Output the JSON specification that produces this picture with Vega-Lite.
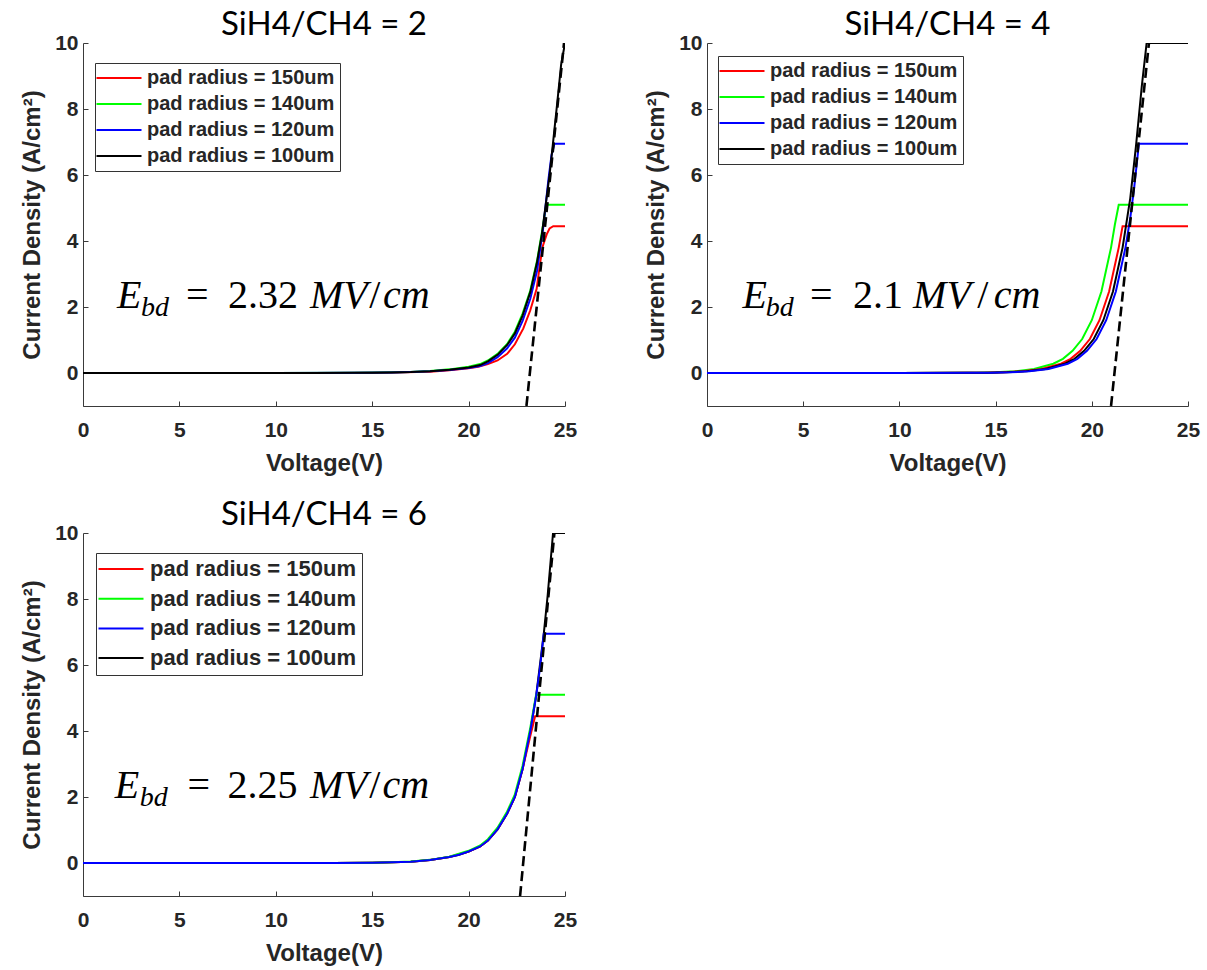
{
  "$schema": "https://vega.github.io/schema/vega-lite/v6.json",
  "background": "white",
  "padding": {"left": 20, "top": 9, "right": 4, "bottom": 2},
  "config": {
    "view": {"stroke": null},
    "axis": {
      "grid": false,
      "domainColor": "#3a3a3a",
      "domainWidth": 1,
      "tickColor": "#3a3a3a",
      "tickSize": -5,
      "labelFont": "Liberation Sans",
      "labelFontWeight": "bold",
      "labelFontSize": 21,
      "labelColor": "#262626",
      "labelFlush": false,
      "labelOverlap": false,
      "titleFont": "Liberation Sans",
      "titleFontWeight": "bold",
      "titleFontSize": 24,
      "titleColor": "#262626"
    },
    "title": {"font": "Lato", "fontSize": 33, "fontWeight": "normal", "color": "black", "frame": "group", "anchor": "middle", "offset": -10}
  },
  "datasets": {
    "curves": [
      {"ratio": 2, "radius": "pad radius = 150um", "V": 0, "J": 0},
      {"ratio": 2, "radius": "pad radius = 150um", "V": 10, "J": 0},
      {"ratio": 2, "radius": "pad radius = 150um", "V": 14, "J": 0.003},
      {"ratio": 2, "radius": "pad radius = 150um", "V": 16, "J": 0.012},
      {"ratio": 2, "radius": "pad radius = 150um", "V": 18, "J": 0.04},
      {"ratio": 2, "radius": "pad radius = 150um", "V": 19, "J": 0.08},
      {"ratio": 2, "radius": "pad radius = 150um", "V": 20, "J": 0.14},
      {"ratio": 2, "radius": "pad radius = 150um", "V": 20.5, "J": 0.19},
      {"ratio": 2, "radius": "pad radius = 150um", "V": 21, "J": 0.27},
      {"ratio": 2, "radius": "pad radius = 150um", "V": 21.5, "J": 0.38},
      {"ratio": 2, "radius": "pad radius = 150um", "V": 22, "J": 0.58},
      {"ratio": 2, "radius": "pad radius = 150um", "V": 22.4, "J": 0.87},
      {"ratio": 2, "radius": "pad radius = 150um", "V": 22.84, "J": 1.35},
      {"ratio": 2, "radius": "pad radius = 150um", "V": 23.2, "J": 1.9},
      {"ratio": 2, "radius": "pad radius = 150um", "V": 23.53, "J": 2.55},
      {"ratio": 2, "radius": "pad radius = 150um", "V": 23.7, "J": 3.3},
      {"ratio": 2, "radius": "pad radius = 150um", "V": 23.85, "J": 3.85},
      {"ratio": 2, "radius": "pad radius = 150um", "V": 24.05, "J": 4.2},
      {"ratio": 2, "radius": "pad radius = 150um", "V": 24.2, "J": 4.38},
      {"ratio": 2, "radius": "pad radius = 150um", "V": 24.39, "J": 4.45},
      {"ratio": 2, "radius": "pad radius = 150um", "V": 25, "J": 4.45},

      {"ratio": 2, "radius": "pad radius = 140um", "V": 0, "J": 0},
      {"ratio": 2, "radius": "pad radius = 140um", "V": 10, "J": 0},
      {"ratio": 2, "radius": "pad radius = 140um", "V": 14, "J": 0.007},
      {"ratio": 2, "radius": "pad radius = 140um", "V": 16, "J": 0.02},
      {"ratio": 2, "radius": "pad radius = 140um", "V": 17, "J": 0.033},
      {"ratio": 2, "radius": "pad radius = 140um", "V": 18, "J": 0.06},
      {"ratio": 2, "radius": "pad radius = 140um", "V": 19, "J": 0.11},
      {"ratio": 2, "radius": "pad radius = 140um", "V": 20, "J": 0.19},
      {"ratio": 2, "radius": "pad radius = 140um", "V": 20.6, "J": 0.27},
      {"ratio": 2, "radius": "pad radius = 140um", "V": 21, "J": 0.38},
      {"ratio": 2, "radius": "pad radius = 140um", "V": 21.5, "J": 0.58},
      {"ratio": 2, "radius": "pad radius = 140um", "V": 22, "J": 0.88},
      {"ratio": 2, "radius": "pad radius = 140um", "V": 22.4, "J": 1.25},
      {"ratio": 2, "radius": "pad radius = 140um", "V": 22.8, "J": 1.8},
      {"ratio": 2, "radius": "pad radius = 140um", "V": 23.2, "J": 2.5},
      {"ratio": 2, "radius": "pad radius = 140um", "V": 23.55, "J": 3.4},
      {"ratio": 2, "radius": "pad radius = 140um", "V": 23.8, "J": 4.25},
      {"ratio": 2, "radius": "pad radius = 140um", "V": 24.0, "J": 5.0},
      {"ratio": 2, "radius": "pad radius = 140um", "V": 24.05, "J": 5.1},
      {"ratio": 2, "radius": "pad radius = 140um", "V": 25, "J": 5.1},

      {"ratio": 2, "radius": "pad radius = 120um", "V": 0, "J": 0},
      {"ratio": 2, "radius": "pad radius = 120um", "V": 10, "J": 0},
      {"ratio": 2, "radius": "pad radius = 120um", "V": 14, "J": 0.005},
      {"ratio": 2, "radius": "pad radius = 120um", "V": 16, "J": 0.015},
      {"ratio": 2, "radius": "pad radius = 120um", "V": 17, "J": 0.027},
      {"ratio": 2, "radius": "pad radius = 120um", "V": 18, "J": 0.05},
      {"ratio": 2, "radius": "pad radius = 120um", "V": 19, "J": 0.09},
      {"ratio": 2, "radius": "pad radius = 120um", "V": 20, "J": 0.15},
      {"ratio": 2, "radius": "pad radius = 120um", "V": 20.6, "J": 0.21},
      {"ratio": 2, "radius": "pad radius = 120um", "V": 21, "J": 0.3},
      {"ratio": 2, "radius": "pad radius = 120um", "V": 21.5, "J": 0.48},
      {"ratio": 2, "radius": "pad radius = 120um", "V": 22, "J": 0.75},
      {"ratio": 2, "radius": "pad radius = 120um", "V": 22.4, "J": 1.07},
      {"ratio": 2, "radius": "pad radius = 120um", "V": 22.8, "J": 1.58},
      {"ratio": 2, "radius": "pad radius = 120um", "V": 23.2, "J": 2.25},
      {"ratio": 2, "radius": "pad radius = 120um", "V": 23.55, "J": 3.1},
      {"ratio": 2, "radius": "pad radius = 120um", "V": 23.86, "J": 4.35},
      {"ratio": 2, "radius": "pad radius = 120um", "V": 24.14, "J": 5.86},
      {"ratio": 2, "radius": "pad radius = 120um", "V": 24.3, "J": 6.6},
      {"ratio": 2, "radius": "pad radius = 120um", "V": 24.45, "J": 6.95},
      {"ratio": 2, "radius": "pad radius = 120um", "V": 25, "J": 6.95},

      {"ratio": 2, "radius": "pad radius = 100um", "V": 0, "J": 0},
      {"ratio": 2, "radius": "pad radius = 100um", "V": 10, "J": 0},
      {"ratio": 2, "radius": "pad radius = 100um", "V": 12, "J": 0.002},
      {"ratio": 2, "radius": "pad radius = 100um", "V": 14, "J": 0.006},
      {"ratio": 2, "radius": "pad radius = 100um", "V": 15, "J": 0.01},
      {"ratio": 2, "radius": "pad radius = 100um", "V": 16, "J": 0.018},
      {"ratio": 2, "radius": "pad radius = 100um", "V": 17, "J": 0.03},
      {"ratio": 2, "radius": "pad radius = 100um", "V": 18, "J": 0.055},
      {"ratio": 2, "radius": "pad radius = 100um", "V": 19, "J": 0.1},
      {"ratio": 2, "radius": "pad radius = 100um", "V": 20, "J": 0.17},
      {"ratio": 2, "radius": "pad radius = 100um", "V": 20.6, "J": 0.24},
      {"ratio": 2, "radius": "pad radius = 100um", "V": 21, "J": 0.35},
      {"ratio": 2, "radius": "pad radius = 100um", "V": 21.5, "J": 0.55},
      {"ratio": 2, "radius": "pad radius = 100um", "V": 22, "J": 0.85},
      {"ratio": 2, "radius": "pad radius = 100um", "V": 22.4, "J": 1.2},
      {"ratio": 2, "radius": "pad radius = 100um", "V": 22.8, "J": 1.74},
      {"ratio": 2, "radius": "pad radius = 100um", "V": 23.2, "J": 2.45},
      {"ratio": 2, "radius": "pad radius = 100um", "V": 23.55, "J": 3.36},
      {"ratio": 2, "radius": "pad radius = 100um", "V": 23.8, "J": 4.2},
      {"ratio": 2, "radius": "pad radius = 100um", "V": 24.0, "J": 5.1},
      {"ratio": 2, "radius": "pad radius = 100um", "V": 24.2, "J": 6.0},
      {"ratio": 2, "radius": "pad radius = 100um", "V": 24.38, "J": 6.98},
      {"ratio": 2, "radius": "pad radius = 100um", "V": 24.6, "J": 8.2},
      {"ratio": 2, "radius": "pad radius = 100um", "V": 24.8, "J": 9.35},
      {"ratio": 2, "radius": "pad radius = 100um", "V": 25, "J": 10},

      {"ratio": 4, "radius": "pad radius = 140um", "V": 0, "J": 0},
      {"ratio": 4, "radius": "pad radius = 140um", "V": 10, "J": 0},
      {"ratio": 4, "radius": "pad radius = 140um", "V": 13, "J": 0.004},
      {"ratio": 4, "radius": "pad radius = 140um", "V": 14, "J": 0.009},
      {"ratio": 4, "radius": "pad radius = 140um", "V": 15, "J": 0.021},
      {"ratio": 4, "radius": "pad radius = 140um", "V": 16, "J": 0.05},
      {"ratio": 4, "radius": "pad radius = 140um", "V": 17, "J": 0.12},
      {"ratio": 4, "radius": "pad radius = 140um", "V": 18, "J": 0.28},
      {"ratio": 4, "radius": "pad radius = 140um", "V": 18.5, "J": 0.43},
      {"ratio": 4, "radius": "pad radius = 140um", "V": 19, "J": 0.67},
      {"ratio": 4, "radius": "pad radius = 140um", "V": 19.5, "J": 1.03},
      {"ratio": 4, "radius": "pad radius = 140um", "V": 20, "J": 1.6},
      {"ratio": 4, "radius": "pad radius = 140um", "V": 20.5, "J": 2.47},
      {"ratio": 4, "radius": "pad radius = 140um", "V": 21, "J": 3.8},
      {"ratio": 4, "radius": "pad radius = 140um", "V": 21.2, "J": 4.5},
      {"ratio": 4, "radius": "pad radius = 140um", "V": 21.4, "J": 5.1},
      {"ratio": 4, "radius": "pad radius = 140um", "V": 25, "J": 5.1},

      {"ratio": 4, "radius": "pad radius = 150um", "V": 0, "J": 0},
      {"ratio": 4, "radius": "pad radius = 150um", "V": 10, "J": 0},
      {"ratio": 4, "radius": "pad radius = 150um", "V": 13.4, "J": 0.004},
      {"ratio": 4, "radius": "pad radius = 150um", "V": 14.4, "J": 0.009},
      {"ratio": 4, "radius": "pad radius = 150um", "V": 15.4, "J": 0.021},
      {"ratio": 4, "radius": "pad radius = 150um", "V": 16.4, "J": 0.05},
      {"ratio": 4, "radius": "pad radius = 150um", "V": 17.4, "J": 0.12},
      {"ratio": 4, "radius": "pad radius = 150um", "V": 18.4, "J": 0.28},
      {"ratio": 4, "radius": "pad radius = 150um", "V": 18.9, "J": 0.43},
      {"ratio": 4, "radius": "pad radius = 150um", "V": 19.4, "J": 0.67},
      {"ratio": 4, "radius": "pad radius = 150um", "V": 19.9, "J": 1.03},
      {"ratio": 4, "radius": "pad radius = 150um", "V": 20.4, "J": 1.6},
      {"ratio": 4, "radius": "pad radius = 150um", "V": 20.9, "J": 2.47},
      {"ratio": 4, "radius": "pad radius = 150um", "V": 21.4, "J": 3.8},
      {"ratio": 4, "radius": "pad radius = 150um", "V": 21.6, "J": 4.45},
      {"ratio": 4, "radius": "pad radius = 150um", "V": 25, "J": 4.45},

      {"ratio": 4, "radius": "pad radius = 100um", "V": 0, "J": 0},
      {"ratio": 4, "radius": "pad radius = 100um", "V": 10, "J": 0},
      {"ratio": 4, "radius": "pad radius = 100um", "V": 13.6, "J": 0.004},
      {"ratio": 4, "radius": "pad radius = 100um", "V": 14.6, "J": 0.009},
      {"ratio": 4, "radius": "pad radius = 100um", "V": 15.6, "J": 0.021},
      {"ratio": 4, "radius": "pad radius = 100um", "V": 16.6, "J": 0.05},
      {"ratio": 4, "radius": "pad radius = 100um", "V": 17.6, "J": 0.12},
      {"ratio": 4, "radius": "pad radius = 100um", "V": 18.6, "J": 0.28},
      {"ratio": 4, "radius": "pad radius = 100um", "V": 19.1, "J": 0.43},
      {"ratio": 4, "radius": "pad radius = 100um", "V": 19.6, "J": 0.67},
      {"ratio": 4, "radius": "pad radius = 100um", "V": 20.1, "J": 1.03},
      {"ratio": 4, "radius": "pad radius = 100um", "V": 20.6, "J": 1.6},
      {"ratio": 4, "radius": "pad radius = 100um", "V": 21.1, "J": 2.47},
      {"ratio": 4, "radius": "pad radius = 100um", "V": 21.6, "J": 3.8},
      {"ratio": 4, "radius": "pad radius = 100um", "V": 22.0, "J": 5.3},
      {"ratio": 4, "radius": "pad radius = 100um", "V": 22.3, "J": 6.9},
      {"ratio": 4, "radius": "pad radius = 100um", "V": 22.6, "J": 8.7},
      {"ratio": 4, "radius": "pad radius = 100um", "V": 22.85, "J": 10},
      {"ratio": 4, "radius": "pad radius = 100um", "V": 25, "J": 10},

      {"ratio": 4, "radius": "pad radius = 120um", "V": 0, "J": 0},
      {"ratio": 4, "radius": "pad radius = 120um", "V": 10, "J": 0},
      {"ratio": 4, "radius": "pad radius = 120um", "V": 13.75, "J": 0.004},
      {"ratio": 4, "radius": "pad radius = 120um", "V": 14.75, "J": 0.009},
      {"ratio": 4, "radius": "pad radius = 120um", "V": 15.75, "J": 0.021},
      {"ratio": 4, "radius": "pad radius = 120um", "V": 16.75, "J": 0.05},
      {"ratio": 4, "radius": "pad radius = 120um", "V": 17.75, "J": 0.12},
      {"ratio": 4, "radius": "pad radius = 120um", "V": 18.75, "J": 0.28},
      {"ratio": 4, "radius": "pad radius = 120um", "V": 19.25, "J": 0.43},
      {"ratio": 4, "radius": "pad radius = 120um", "V": 19.75, "J": 0.67},
      {"ratio": 4, "radius": "pad radius = 120um", "V": 20.25, "J": 1.03},
      {"ratio": 4, "radius": "pad radius = 120um", "V": 20.75, "J": 1.6},
      {"ratio": 4, "radius": "pad radius = 120um", "V": 21.25, "J": 2.47},
      {"ratio": 4, "radius": "pad radius = 120um", "V": 21.75, "J": 3.8},
      {"ratio": 4, "radius": "pad radius = 120um", "V": 22.0, "J": 4.7},
      {"ratio": 4, "radius": "pad radius = 120um", "V": 22.2, "J": 5.6},
      {"ratio": 4, "radius": "pad radius = 120um", "V": 22.45, "J": 6.95},
      {"ratio": 4, "radius": "pad radius = 120um", "V": 25, "J": 6.95},

      {"ratio": 6, "radius": "pad radius = 100um", "V": 0, "J": 0},
      {"ratio": 6, "radius": "pad radius = 100um", "V": 10, "J": 0},
      {"ratio": 6, "radius": "pad radius = 100um", "V": 13, "J": 0.003},
      {"ratio": 6, "radius": "pad radius = 100um", "V": 15, "J": 0.01},
      {"ratio": 6, "radius": "pad radius = 100um", "V": 16, "J": 0.02},
      {"ratio": 6, "radius": "pad radius = 100um", "V": 17, "J": 0.04},
      {"ratio": 6, "radius": "pad radius = 100um", "V": 18, "J": 0.09},
      {"ratio": 6, "radius": "pad radius = 100um", "V": 19, "J": 0.18},
      {"ratio": 6, "radius": "pad radius = 100um", "V": 19.5, "J": 0.25},
      {"ratio": 6, "radius": "pad radius = 100um", "V": 20, "J": 0.35},
      {"ratio": 6, "radius": "pad radius = 100um", "V": 20.6, "J": 0.5},
      {"ratio": 6, "radius": "pad radius = 100um", "V": 21, "J": 0.68},
      {"ratio": 6, "radius": "pad radius = 100um", "V": 21.5, "J": 1.02},
      {"ratio": 6, "radius": "pad radius = 100um", "V": 22, "J": 1.5},
      {"ratio": 6, "radius": "pad radius = 100um", "V": 22.4, "J": 2.0},
      {"ratio": 6, "radius": "pad radius = 100um", "V": 22.8, "J": 2.85},
      {"ratio": 6, "radius": "pad radius = 100um", "V": 23.2, "J": 4.0},
      {"ratio": 6, "radius": "pad radius = 100um", "V": 23.5, "J": 5.05},
      {"ratio": 6, "radius": "pad radius = 100um", "V": 23.9, "J": 6.95},
      {"ratio": 6, "radius": "pad radius = 100um", "V": 24.1, "J": 8.1},
      {"ratio": 6, "radius": "pad radius = 100um", "V": 24.38, "J": 10},
      {"ratio": 6, "radius": "pad radius = 100um", "V": 25, "J": 10},

      {"ratio": 6, "radius": "pad radius = 150um", "V": 0, "J": 0},
      {"ratio": 6, "radius": "pad radius = 150um", "V": 10, "J": 0},
      {"ratio": 6, "radius": "pad radius = 150um", "V": 13, "J": 0.003},
      {"ratio": 6, "radius": "pad radius = 150um", "V": 15, "J": 0.01},
      {"ratio": 6, "radius": "pad radius = 150um", "V": 16, "J": 0.02},
      {"ratio": 6, "radius": "pad radius = 150um", "V": 17, "J": 0.04},
      {"ratio": 6, "radius": "pad radius = 150um", "V": 18, "J": 0.09},
      {"ratio": 6, "radius": "pad radius = 150um", "V": 19, "J": 0.18},
      {"ratio": 6, "radius": "pad radius = 150um", "V": 20, "J": 0.35},
      {"ratio": 6, "radius": "pad radius = 150um", "V": 20.6, "J": 0.5},
      {"ratio": 6, "radius": "pad radius = 150um", "V": 21, "J": 0.68},
      {"ratio": 6, "radius": "pad radius = 150um", "V": 21.5, "J": 1.02},
      {"ratio": 6, "radius": "pad radius = 150um", "V": 22, "J": 1.5},
      {"ratio": 6, "radius": "pad radius = 150um", "V": 22.4, "J": 2.0},
      {"ratio": 6, "radius": "pad radius = 150um", "V": 22.8, "J": 2.85},
      {"ratio": 6, "radius": "pad radius = 150um", "V": 23.2, "J": 3.85},
      {"ratio": 6, "radius": "pad radius = 150um", "V": 23.45, "J": 4.45},
      {"ratio": 6, "radius": "pad radius = 150um", "V": 25, "J": 4.45},

      {"ratio": 6, "radius": "pad radius = 140um", "V": 0, "J": 0},
      {"ratio": 6, "radius": "pad radius = 140um", "V": 10, "J": 0},
      {"ratio": 6, "radius": "pad radius = 140um", "V": 13, "J": 0.003},
      {"ratio": 6, "radius": "pad radius = 140um", "V": 15, "J": 0.011},
      {"ratio": 6, "radius": "pad radius = 140um", "V": 16, "J": 0.022},
      {"ratio": 6, "radius": "pad radius = 140um", "V": 17, "J": 0.045},
      {"ratio": 6, "radius": "pad radius = 140um", "V": 18, "J": 0.095},
      {"ratio": 6, "radius": "pad radius = 140um", "V": 19, "J": 0.19},
      {"ratio": 6, "radius": "pad radius = 140um", "V": 20, "J": 0.37},
      {"ratio": 6, "radius": "pad radius = 140um", "V": 20.6, "J": 0.53},
      {"ratio": 6, "radius": "pad radius = 140um", "V": 21, "J": 0.72},
      {"ratio": 6, "radius": "pad radius = 140um", "V": 21.5, "J": 1.07},
      {"ratio": 6, "radius": "pad radius = 140um", "V": 22, "J": 1.56},
      {"ratio": 6, "radius": "pad radius = 140um", "V": 22.4, "J": 2.08},
      {"ratio": 6, "radius": "pad radius = 140um", "V": 22.8, "J": 2.95},
      {"ratio": 6, "radius": "pad radius = 140um", "V": 23.2, "J": 4.1},
      {"ratio": 6, "radius": "pad radius = 140um", "V": 23.5, "J": 5.1},
      {"ratio": 6, "radius": "pad radius = 140um", "V": 25, "J": 5.1},

      {"ratio": 6, "radius": "pad radius = 120um", "V": 0, "J": 0},
      {"ratio": 6, "radius": "pad radius = 120um", "V": 10, "J": 0},
      {"ratio": 6, "radius": "pad radius = 120um", "V": 13, "J": 0.003},
      {"ratio": 6, "radius": "pad radius = 120um", "V": 15, "J": 0.01},
      {"ratio": 6, "radius": "pad radius = 120um", "V": 16, "J": 0.02},
      {"ratio": 6, "radius": "pad radius = 120um", "V": 17, "J": 0.04},
      {"ratio": 6, "radius": "pad radius = 120um", "V": 18, "J": 0.09},
      {"ratio": 6, "radius": "pad radius = 120um", "V": 19, "J": 0.18},
      {"ratio": 6, "radius": "pad radius = 120um", "V": 19.5, "J": 0.25},
      {"ratio": 6, "radius": "pad radius = 120um", "V": 20, "J": 0.35},
      {"ratio": 6, "radius": "pad radius = 120um", "V": 20.6, "J": 0.5},
      {"ratio": 6, "radius": "pad radius = 120um", "V": 21, "J": 0.68},
      {"ratio": 6, "radius": "pad radius = 120um", "V": 21.5, "J": 1.02},
      {"ratio": 6, "radius": "pad radius = 120um", "V": 22, "J": 1.5},
      {"ratio": 6, "radius": "pad radius = 120um", "V": 22.4, "J": 2.0},
      {"ratio": 6, "radius": "pad radius = 120um", "V": 22.8, "J": 2.85},
      {"ratio": 6, "radius": "pad radius = 120um", "V": 23.2, "J": 4.0},
      {"ratio": 6, "radius": "pad radius = 120um", "V": 23.5, "J": 5.05},
      {"ratio": 6, "radius": "pad radius = 120um", "V": 23.7, "J": 5.9},
      {"ratio": 6, "radius": "pad radius = 120um", "V": 23.9, "J": 6.95},
      {"ratio": 6, "radius": "pad radius = 120um", "V": 25, "J": 6.95}
    ],
    "fits": [
      {"ratio": 2, "V": 23.0, "J": -1},
      {"ratio": 2, "V": 24.95, "J": 10},
      {"ratio": 4, "V": 21.0, "J": -1},
      {"ratio": 4, "V": 22.97, "J": 10},
      {"ratio": 6, "V": 22.67, "J": -1},
      {"ratio": 6, "V": 24.45, "J": 10}
    ],
    "notes": [
      {"ratio": 2, "role": "symbol", "text": "E", "V": 1.76, "J": 1.97},
      {"ratio": 2, "role": "subscript", "text": "bd", "V": 3.01, "J": 1.97},
      {"ratio": 2, "role": "operator", "text": "=", "V": 5.34, "J": 1.97},
      {"ratio": 2, "role": "value", "text": "2.32", "V": 7.52, "J": 1.97},
      {"ratio": 2, "role": "unit", "text": "MV", "V": 11.77, "J": 1.97},
      {"ratio": 2, "role": "slash", "text": "/", "V": 14.85, "J": 1.97},
      {"ratio": 2, "role": "unit", "text": "cm", "V": 15.56, "J": 1.97},
      {"ratio": 4, "role": "symbol", "text": "E", "V": 1.85, "J": 1.97},
      {"ratio": 4, "role": "subscript", "text": "bd", "V": 3.06, "J": 1.97},
      {"ratio": 4, "role": "operator", "text": "=", "V": 5.35, "J": 1.97},
      {"ratio": 4, "role": "value", "text": "2.1", "V": 7.59, "J": 1.97},
      {"ratio": 4, "role": "unit", "text": "MV", "V": 10.71, "J": 1.97},
      {"ratio": 4, "role": "slash", "text": "/", "V": 14.05, "J": 1.97},
      {"ratio": 4, "role": "unit", "text": "cm", "V": 14.9, "J": 1.97},
      {"ratio": 6, "role": "symbol", "text": "E", "V": 1.65, "J": 1.97},
      {"ratio": 6, "role": "subscript", "text": "bd", "V": 2.94, "J": 1.97},
      {"ratio": 6, "role": "operator", "text": "=", "V": 5.42, "J": 1.97},
      {"ratio": 6, "role": "value", "text": "2.25", "V": 7.5, "J": 1.97},
      {"ratio": 6, "role": "unit", "text": "MV", "V": 11.77, "J": 1.97},
      {"ratio": 6, "role": "slash", "text": "/", "V": 14.85, "J": 1.97},
      {"ratio": 6, "role": "unit", "text": "cm", "V": 15.54, "J": 1.97}
    ]
  },
  "columns": 2,
  "spacing": {"row": 24, "column": 67},
  "resolve": {
    "scale": {"color": "independent", "x": "independent", "y": "independent"},
    "legend": {"color": "independent"}
  },
  "concat": [
    {
      "width": 482,
      "height": 363,
      "title": {"text": "SiH4/CH4 = 2"},
      "encoding": {
        "x": {"field": "V", "type": "quantitative", "scale": {"domain": [0, 25], "nice": false, "zero": false},
              "axis": {"title": "Voltage(V)", "values": [0, 5, 10, 15, 20, 25], "labelPadding": 18, "titlePadding": 11}},
        "y": {"field": "J", "type": "quantitative", "scale": {"domain": [-1, 10], "nice": false, "zero": false},
              "axis": {"title": "Current Density (A/cm²)", "values": [0, 2, 4, 6, 8, 10], "labelPadding": 10, "titlePadding": 10}}
      },
      "layer": [
        {
          "data": {"name": "curves"},
          "transform": [{"filter": "datum.ratio == 2 && datum.radius != 'pad radius = 100um'"}],
          "mark": {"type": "line", "strokeWidth": 2, "clip": true},
          "encoding": {
            "color": {"field": "radius", "type": "nominal",
              "scale": {"domain": ["pad radius = 150um", "pad radius = 140um", "pad radius = 120um", "pad radius = 100um"], "range": ["#ff0000", "#00ff00", "#0000ff", "#000000"]},
              "legend": {"title": null, "orient": "none", "legendX": 12, "legendY": 20, "symbolType": "M-3,0H3", "symbolSize": 225, "symbolStrokeWidth": 2, "symbolOffset": 9, "labelOffset": 18, "labelFont": "Liberation Sans", "labelFontWeight": "bold", "labelFontSize": 20, "labelColor": "#262626", "labelLimit": 400, "rowPadding": 6, "padding": 5, "strokeColor": "#333333", "fillColor": "white"}}
          }
        },
        {
          "data": {"name": "curves"},
          "transform": [{"filter": "datum.ratio == 2 && datum.radius == 'pad radius = 100um'"}],
          "mark": {"type": "line", "strokeWidth": 2, "clip": true},
          "encoding": {
            "color": {"field": "radius", "type": "nominal",
              "scale": {"domain": ["pad radius = 150um", "pad radius = 140um", "pad radius = 120um", "pad radius = 100um"], "range": ["#ff0000", "#00ff00", "#0000ff", "#000000"]},
              "legend": {"title": null, "orient": "none", "legendX": 12, "legendY": 20, "symbolType": "M-3,0H3", "symbolSize": 225, "symbolStrokeWidth": 2, "symbolOffset": 9, "labelOffset": 18, "labelFont": "Liberation Sans", "labelFontWeight": "bold", "labelFontSize": 20, "labelColor": "#262626", "labelLimit": 400, "rowPadding": 6, "padding": 5, "strokeColor": "#333333", "fillColor": "white"}}
          }
        },
        {
          "data": {"name": "fits"},
          "transform": [{"filter": "datum.ratio == 2"}],
          "mark": {"type": "line", "color": "black", "strokeWidth": 2.6, "strokeDash": [10, 5], "clip": true}
        },
        {
          "data": {"name": "notes"},
          "transform": [{"filter": "datum.ratio == 2 && (datum.role == 'symbol' || datum.role == 'unit')"}],
          "mark": {"type": "text", "align": "left", "baseline": "alphabetic", "font": "Liberation Serif", "fontStyle": "italic", "fontSize": 40, "color": "black"},
          "encoding": {"text": {"field": "text"}}
        },
        {
          "data": {"name": "notes"},
          "transform": [{"filter": "datum.ratio == 2 && datum.role == 'subscript'"}],
          "mark": {"type": "text", "align": "left", "baseline": "alphabetic", "font": "Liberation Serif", "fontStyle": "italic", "fontSize": 28, "dy": 8, "color": "black"},
          "encoding": {"text": {"field": "text"}}
        },
        {
          "data": {"name": "notes"},
          "transform": [{"filter": "datum.ratio == 2 && (datum.role == 'operator' || datum.role == 'value' || datum.role == 'slash')"}],
          "mark": {"type": "text", "align": "left", "baseline": "alphabetic", "font": "Liberation Serif", "fontSize": 40, "color": "black"},
          "encoding": {"text": {"field": "text"}}
        }
      ]
    },
    {
      "width": 481,
      "height": 363,
      "title": {"text": "SiH4/CH4 = 4"},
      "encoding": {
        "x": {"field": "V", "type": "quantitative", "scale": {"domain": [0, 25], "nice": false, "zero": false},
              "axis": {"title": "Voltage(V)", "values": [0, 5, 10, 15, 20, 25], "labelPadding": 18, "titlePadding": 11}},
        "y": {"field": "J", "type": "quantitative", "scale": {"domain": [-1, 10], "nice": false, "zero": false},
              "axis": {"title": "Current Density (A/cm²)", "values": [0, 2, 4, 6, 8, 10], "labelPadding": 10, "titlePadding": 10}}
      },
      "layer": [
        {
          "data": {"name": "curves"},
          "transform": [{"filter": "datum.ratio == 4 && datum.radius != 'pad radius = 120um'"}],
          "mark": {"type": "line", "strokeWidth": 2, "clip": true},
          "encoding": {
            "color": {"field": "radius", "type": "nominal",
              "scale": {"domain": ["pad radius = 150um", "pad radius = 140um", "pad radius = 120um", "pad radius = 100um"], "range": ["#ff0000", "#00ff00", "#0000ff", "#000000"]},
              "legend": {"title": null, "orient": "none", "legendX": 11, "legendY": 13, "symbolType": "M-3,0H3", "symbolSize": 225, "symbolStrokeWidth": 2, "symbolOffset": 9, "labelOffset": 18, "labelFont": "Liberation Sans", "labelFontWeight": "bold", "labelFontSize": 20, "labelColor": "#262626", "labelLimit": 400, "rowPadding": 6, "padding": 5, "strokeColor": "#333333", "fillColor": "white"}}
          }
        },
        {
          "data": {"name": "curves"},
          "transform": [{"filter": "datum.ratio == 4 && datum.radius == 'pad radius = 120um'"}],
          "mark": {"type": "line", "strokeWidth": 2, "clip": true},
          "encoding": {
            "color": {"field": "radius", "type": "nominal",
              "scale": {"domain": ["pad radius = 150um", "pad radius = 140um", "pad radius = 120um", "pad radius = 100um"], "range": ["#ff0000", "#00ff00", "#0000ff", "#000000"]},
              "legend": {"title": null, "orient": "none", "legendX": 11, "legendY": 13, "symbolType": "M-3,0H3", "symbolSize": 225, "symbolStrokeWidth": 2, "symbolOffset": 9, "labelOffset": 18, "labelFont": "Liberation Sans", "labelFontWeight": "bold", "labelFontSize": 20, "labelColor": "#262626", "labelLimit": 400, "rowPadding": 6, "padding": 5, "strokeColor": "#333333", "fillColor": "white"}}
          }
        },
        {
          "data": {"name": "fits"},
          "transform": [{"filter": "datum.ratio == 4"}],
          "mark": {"type": "line", "color": "black", "strokeWidth": 2.6, "strokeDash": [10, 5], "clip": true}
        },
        {
          "data": {"name": "notes"},
          "transform": [{"filter": "datum.ratio == 4 && (datum.role == 'symbol' || datum.role == 'unit')"}],
          "mark": {"type": "text", "align": "left", "baseline": "alphabetic", "font": "Liberation Serif", "fontStyle": "italic", "fontSize": 40, "color": "black"},
          "encoding": {"text": {"field": "text"}}
        },
        {
          "data": {"name": "notes"},
          "transform": [{"filter": "datum.ratio == 4 && datum.role == 'subscript'"}],
          "mark": {"type": "text", "align": "left", "baseline": "alphabetic", "font": "Liberation Serif", "fontStyle": "italic", "fontSize": 28, "dy": 8, "color": "black"},
          "encoding": {"text": {"field": "text"}}
        },
        {
          "data": {"name": "notes"},
          "transform": [{"filter": "datum.ratio == 4 && (datum.role == 'operator' || datum.role == 'value' || datum.role == 'slash')"}],
          "mark": {"type": "text", "align": "left", "baseline": "alphabetic", "font": "Liberation Serif", "fontSize": 40, "color": "black"},
          "encoding": {"text": {"field": "text"}}
        }
      ]
    },
    {
      "width": 482,
      "height": 363,
      "title": {"text": "SiH4/CH4 = 6"},
      "encoding": {
        "x": {"field": "V", "type": "quantitative", "scale": {"domain": [0, 25], "nice": false, "zero": false},
              "axis": {"title": "Voltage(V)", "values": [0, 5, 10, 15, 20, 25], "labelPadding": 18, "titlePadding": 11}},
        "y": {"field": "J", "type": "quantitative", "scale": {"domain": [-1, 10], "nice": false, "zero": false},
              "axis": {"title": "Current Density (A/cm²)", "values": [0, 2, 4, 6, 8, 10], "labelPadding": 10, "titlePadding": 10}}
      },
      "layer": [
        {
          "data": {"name": "curves"},
          "transform": [{"filter": "datum.ratio == 6 && datum.radius != 'pad radius = 120um'"}],
          "mark": {"type": "line", "strokeWidth": 2, "clip": true},
          "encoding": {
            "color": {"field": "radius", "type": "nominal",
              "scale": {"domain": ["pad radius = 150um", "pad radius = 140um", "pad radius = 120um", "pad radius = 100um"], "range": ["#ff0000", "#00ff00", "#0000ff", "#000000"]},
              "legend": {"title": null, "orient": "none", "legendX": 13, "legendY": 20, "symbolType": "M-3,0H3", "symbolSize": 225, "symbolStrokeWidth": 2, "symbolOffset": 9, "labelOffset": 18, "labelFont": "Liberation Sans", "labelFontWeight": "bold", "labelFontSize": 22, "labelColor": "#262626", "labelLimit": 400, "rowPadding": 7.7, "padding": 5, "strokeColor": "#333333", "fillColor": "white"}}
          }
        },
        {
          "data": {"name": "curves"},
          "transform": [{"filter": "datum.ratio == 6 && datum.radius == 'pad radius = 120um'"}],
          "mark": {"type": "line", "strokeWidth": 2, "clip": true},
          "encoding": {
            "color": {"field": "radius", "type": "nominal",
              "scale": {"domain": ["pad radius = 150um", "pad radius = 140um", "pad radius = 120um", "pad radius = 100um"], "range": ["#ff0000", "#00ff00", "#0000ff", "#000000"]},
              "legend": {"title": null, "orient": "none", "legendX": 13, "legendY": 20, "symbolType": "M-3,0H3", "symbolSize": 225, "symbolStrokeWidth": 2, "symbolOffset": 9, "labelOffset": 18, "labelFont": "Liberation Sans", "labelFontWeight": "bold", "labelFontSize": 22, "labelColor": "#262626", "labelLimit": 400, "rowPadding": 7.7, "padding": 5, "strokeColor": "#333333", "fillColor": "white"}}
          }
        },
        {
          "data": {"name": "fits"},
          "transform": [{"filter": "datum.ratio == 6"}],
          "mark": {"type": "line", "color": "black", "strokeWidth": 2.6, "strokeDash": [10, 5], "clip": true}
        },
        {
          "data": {"name": "notes"},
          "transform": [{"filter": "datum.ratio == 6 && (datum.role == 'symbol' || datum.role == 'unit')"}],
          "mark": {"type": "text", "align": "left", "baseline": "alphabetic", "font": "Liberation Serif", "fontStyle": "italic", "fontSize": 40, "color": "black"},
          "encoding": {"text": {"field": "text"}}
        },
        {
          "data": {"name": "notes"},
          "transform": [{"filter": "datum.ratio == 6 && datum.role == 'subscript'"}],
          "mark": {"type": "text", "align": "left", "baseline": "alphabetic", "font": "Liberation Serif", "fontStyle": "italic", "fontSize": 28, "dy": 8, "color": "black"},
          "encoding": {"text": {"field": "text"}}
        },
        {
          "data": {"name": "notes"},
          "transform": [{"filter": "datum.ratio == 6 && (datum.role == 'operator' || datum.role == 'value' || datum.role == 'slash')"}],
          "mark": {"type": "text", "align": "left", "baseline": "alphabetic", "font": "Liberation Serif", "fontSize": 40, "color": "black"},
          "encoding": {"text": {"field": "text"}}
        }
      ]
    }
  ]
}
